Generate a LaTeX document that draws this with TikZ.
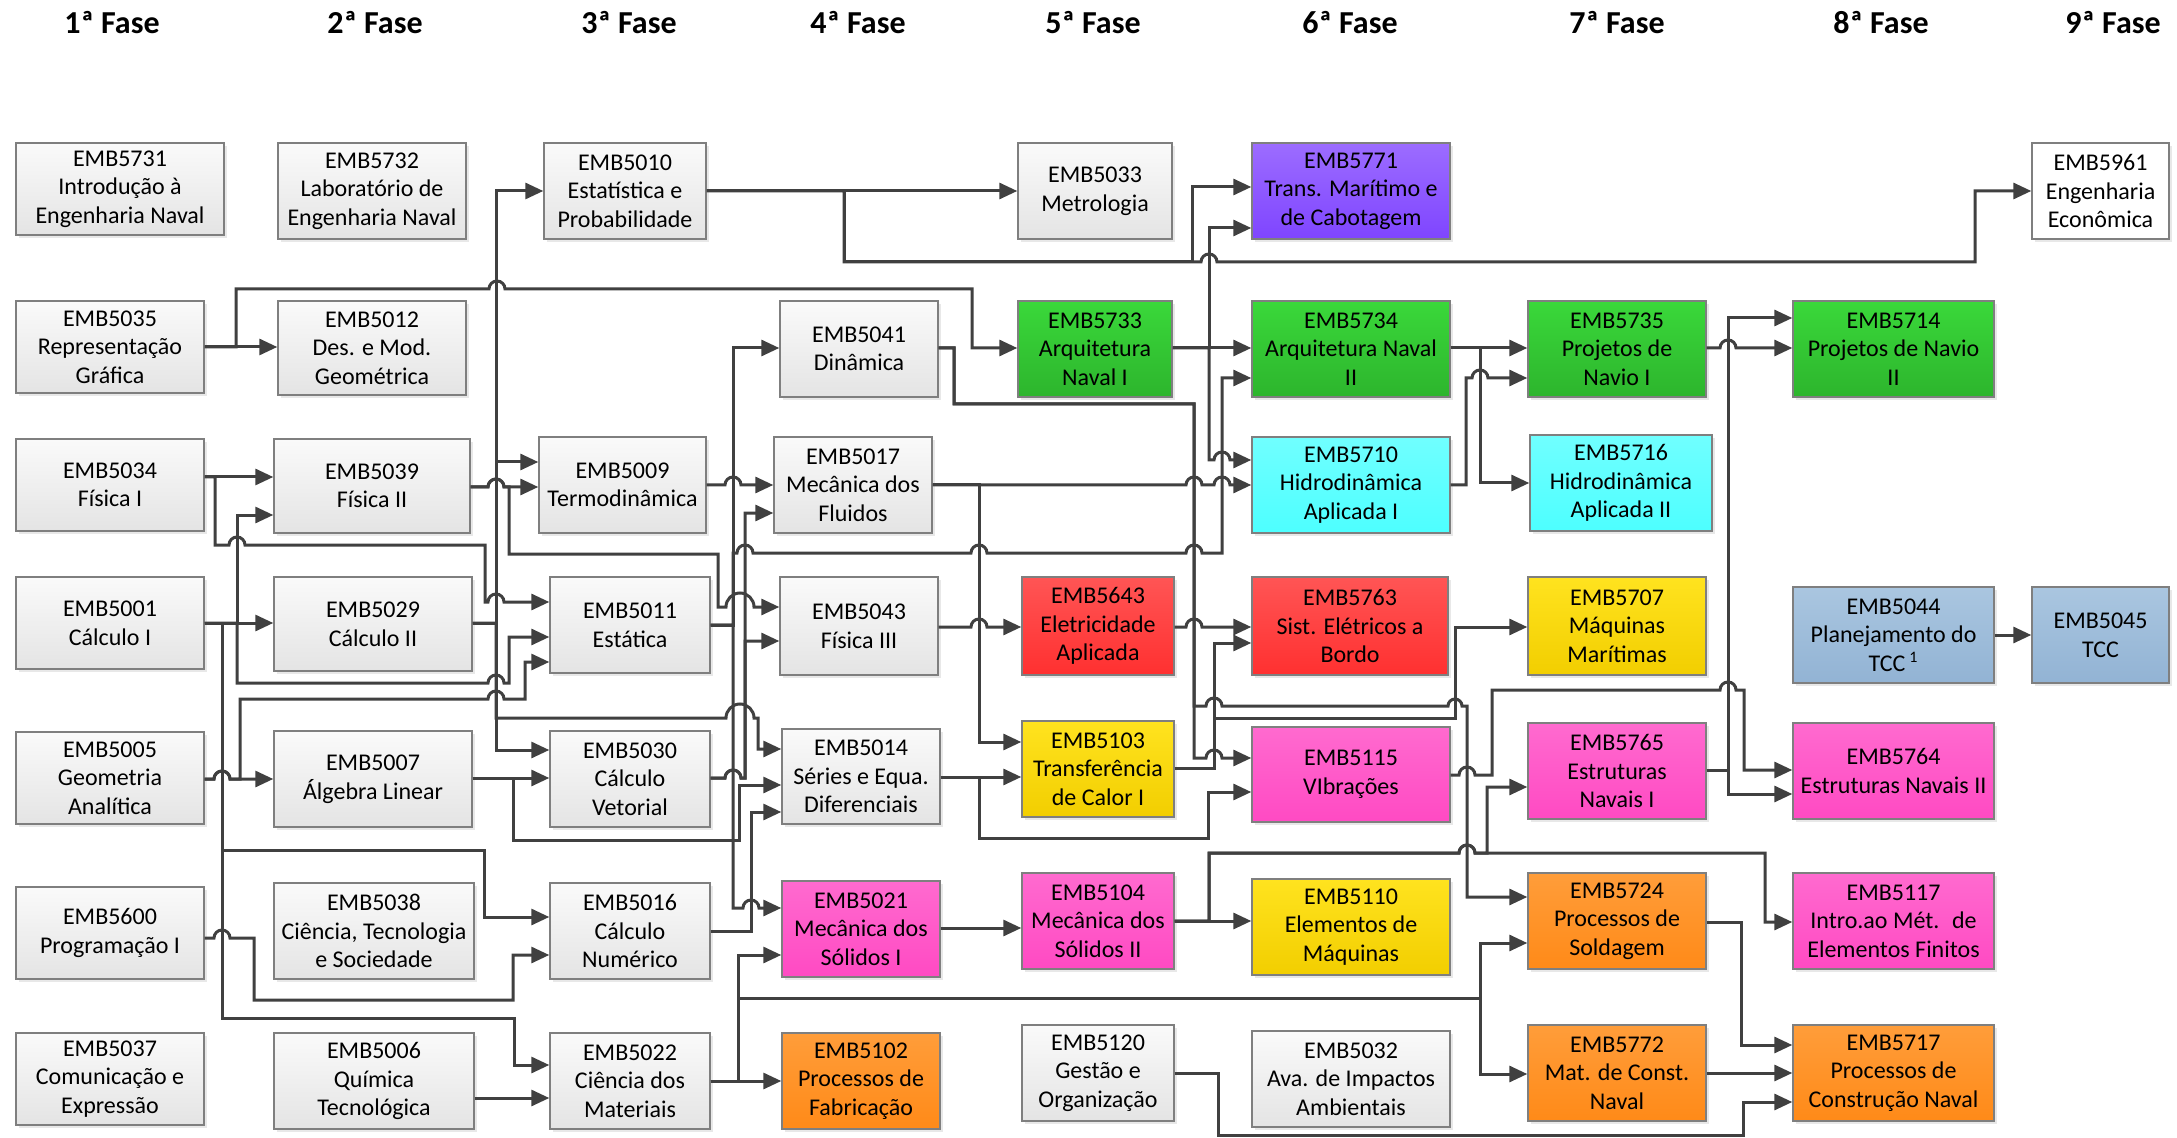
\documentclass[tikz,border=0pt]{standalone}
\usepackage{fontspec}
\setmainfont{Carlito}
\usetikzlibrary{arrows.meta,shadows}
\definecolor{lc}{HTML}{404040}
\definecolor{bd}{HTML}{7F7F7F}
\definecolor{grT}{HTML}{FAFAFA}\definecolor{grB}{HTML}{E4E4E4}
\definecolor{gnT}{HTML}{3AD83A}\definecolor{gnB}{HTML}{2DB52D}
\definecolor{puT}{HTML}{9C6CFF}\definecolor{puB}{HTML}{7F45FF}
\definecolor{cyT}{HTML}{70FFFF}\definecolor{cyB}{HTML}{4DFFFF}
\definecolor{rdT}{HTML}{FF5555}\definecolor{rdB}{HTML}{FF3030}
\definecolor{yeT}{HTML}{FFE31F}\definecolor{yeB}{HTML}{F2CE00}
\definecolor{mgT}{HTML}{FF6ACF}\definecolor{mgB}{HTML}{FF4AC3}
\definecolor{orT}{HTML}{FF9D3A}\definecolor{orB}{HTML}{FF8A18}
\definecolor{blT}{HTML}{AAC6E0}\definecolor{blB}{HTML}{92B3D4}
\newcommand\bxfont{\fontsize{12}{14.3}\selectfont}
\newcommand\hdrfont{\fontsize{16}{19}\selectfont\bfseries}
\newcommand\hop[2]{-- ({#1-8},#2) arc[start angle=180,end angle=360,radius=8]}
\newcommand\hopw[3]{-- ({#1-#3},#2) arc[start angle=180,end angle=360,radius=#3]}
\tikzset{
  box/.style={draw=bd, line width=0.7pt, align=center, inner sep=0pt, font=\bxfont,
    drop shadow={shadow xshift=1.6pt, shadow yshift=-1.6pt, opacity=0.18}},
  wh/.style 2 args={minimum width=#1*0.5pt, minimum height=#2*0.5pt},
  cgray/.style={box, top color=grT, bottom color=grB},
  cwhite/.style={box, fill=white},
  cgreen/.style={box, top color=gnT, bottom color=gnB},
  cpurple/.style={box, top color=puT, bottom color=puB},
  ccyan/.style={box, top color=cyT, bottom color=cyB},
  cred/.style={box, top color=rdT, bottom color=rdB},
  cyellow/.style={box, top color=yeT, bottom color=yeB},
  cmag/.style={box, top color=mgT, bottom color=mgB},
  corange/.style={box, top color=orT, bottom color=orB},
  cblue/.style={box, top color=blT, bottom color=blB},
  ln/.style={draw=lc, line width=1.5pt},
  ar/.style={ln, -{Triangle[length=9pt,width=8pt]}},
  hdr/.style={font=\hdrfont, inner sep=0pt}
}
\begin{document}
\begin{tikzpicture}[x=0.5pt,y=-0.5pt]
\fill[white] (0,0) rectangle (2177,1138);
\useasboundingbox (0,0) rectangle (2177,1138);

% headers
\node[hdr] (h1) at (112,23) {1ª Fase};
\node[hdr] (h2) at (375,23) {2ª Fase};
\node[hdr] (h3) at (629,23) {3ª Fase};
\node[hdr] (h4) at (858,23) {4ª Fase};
\node[hdr] (h5) at (1093,23) {5ª Fase};
\node[hdr] (h6) at (1350,23) {6ª Fase};
\node[hdr] (h7) at (1617,23) {7ª Fase};
\node[hdr] (h8) at (1881,23) {8ª Fase};
\node[hdr] (h9) at (2113,23) {9ª Fase};

% row 1
\node[cgray, wh={208}{92}] (n5731) at (120,189) {EMB5731\\Introdução à\\Engenharia Naval};
\node[cgray, wh={188}{96}] (n5732) at (372,191) {EMB5732\\Laboratório de\\Engenharia Naval};
\node[cgray, wh={162}{96}] (n5010) at (625,191) {EMB5010\\Estatística e\\Probabilidade};
\node[cgray, wh={154}{96}] (n5033) at (1095,191) {EMB5033\\Metrologia};
\node[cpurple, wh={198}{96}] (n5771) at (1351,191) {EMB5771\\Trans. Marítimo e\\de Cabotagem};
\node[cwhite, wh={137}{96}] (n5961) at (2100.5,191) {EMB5961\\Engenharia\\Econômica};
% row 2
\node[cgray, wh={188}{92}] (n5035) at (110,347) {EMB5035\\Representação\\Gráfica};
\node[cgray, wh={188}{94}] (n5012) at (372,348) {EMB5012\\Des. e Mod.\\Geométrica};
\node[cgray, wh={158}{96}] (n5041) at (859,349) {EMB5041\\Dinâmica};
\node[cgreen, wh={154}{96}] (n5733) at (1095,349) {EMB5733\\Arquitetura\\Naval I};
\node[cgreen, wh={198}{96}] (n5734) at (1351,349) {EMB5734\\Arquitetura Naval\\II};
\node[cgreen, wh={178}{96}] (n5735) at (1617,349) {EMB5735\\Projetos de\\Navio I};
\node[cgreen, wh={201}{96}] (n5714) at (1893.5,349) {EMB5714\\Projetos de Navio\\II};
% row 3
\node[cgray, wh={188}{92}] (n5034) at (110,485) {EMB5034\\Física I};
\node[cgray, wh={196}{94}] (n5039) at (372,486) {EMB5039\\Física II};
\node[cgray, wh={167}{96}] (n5009) at (622.5,485) {EMB5009\\Termodinâmica};
\node[cgray, wh={158}{96}] (n5017) at (853,485) {EMB5017\\Mecânica dos\\Fluidos};
\node[ccyan, wh={198}{96}] (n5710) at (1351,485) {EMB5710\\Hidrodinâmica\\Aplicada I};
\node[ccyan, wh={182}{96}] (n5716) at (1621,483) {EMB5716\\Hidrodinâmica\\Aplicada II};
% row 4
\node[cgray, wh={188}{92}] (n5001) at (110,623) {EMB5001\\Cálculo I};
\node[cgray, wh={198}{94}] (n5029) at (373,624) {EMB5029\\Cálculo II};
\node[cgray, wh={160}{96}] (n5011) at (630,625) {EMB5011\\Estática};
\node[cgray, wh={158}{98}] (n5043) at (859,626) {EMB5043\\Física III};
\node[cred, wh={152}{98}] (n5643) at (1098,626) {EMB5643\\Eletricidade\\Aplicada};
\node[cred, wh={196}{98}] (n5763) at (1350,626) {EMB5763\\Sist. Elétricos a\\Bordo};
\node[cyellow, wh={178}{98}] (n5707) at (1617,626) {EMB5707\\Máquinas\\Marítimas};
\node[cblue, wh={201}{96}] (n5044) at (1893.5,635) {EMB5044\\Planejamento do\\TCC\,\textsuperscript{1}};
\node[cblue, wh={137}{96}] (n5045) at (2100.5,635) {EMB5045\\TCC};
% row 5
\node[cgray, wh={188}{92}] (n5005) at (110,778) {EMB5005\\Geometria\\Analítica};
\node[cgray, wh={198}{96}] (n5007) at (373,779) {EMB5007\\Álgebra Linear};
\node[cgray, wh={160}{96}] (n5030) at (630,779) {EMB5030\\Cálculo\\Vetorial};
\node[cgray, wh={158}{95}] (n5014) at (861,776.5) {EMB5014\\Séries e Equa.\\Diferenciais};
\node[cyellow, wh={152}{96}] (n5103) at (1098,769) {EMB5103\\Transferência\\de Calor I};
\node[cmag, wh={198}{95}] (n5115) at (1351,774.5) {EMB5115\\VIbrações};
\node[cmag, wh={178}{96}] (n5765) at (1617,771) {EMB5765\\Estruturas\\Navais I};
\node[cmag, wh={201}{96}] (n5764) at (1893.5,771) {EMB5764\\Estruturas Navais II};
% row 6
\node[cgray, wh={188}{92}] (n5600) at (110,933) {EMB5600\\Programação I};
\node[cgray, wh={200}{96}] (n5038) at (374,931) {EMB5038\\Ciência, Tecnologia\\e Sociedade};
\node[cgray, wh={160}{96}] (n5016) at (630,931) {EMB5016\\Cálculo\\Numérico};
\node[cmag, wh={158}{96}] (n5021) at (861,929) {EMB5021\\Mecânica dos\\Sólidos I};
\node[cmag, wh={152}{96}] (n5104) at (1098,921) {EMB5104\\Mecânica dos\\Sólidos II};
\node[cyellow, wh={198}{96}] (n5110) at (1351,927) {EMB5110\\Elementos de\\Máquinas};
\node[corange, wh={178}{96}] (n5724) at (1617,921) {EMB5724\\Processos de\\Soldagem};
\node[cmag, wh={201}{96}] (n5117) at (1893.5,921) {EMB5117\\Intro.ao Mét.~ de\\Elementos Finitos};
% row 7
\node[cgray, wh={188}{92}] (n5037) at (110,1079) {EMB5037\\Comunicação e\\Expressão};
\node[cgray, wh={200}{96}] (n5006) at (374,1081) {EMB5006\\Química\\Tecnológica};
\node[cgray, wh={160}{96}] (n5022) at (630,1081) {EMB5022\\Ciência dos\\Materiais};
\node[corange, wh={158}{96}] (n5102) at (861,1081) {EMB5102\\Processos de\\Fabricação};
\node[cgray, wh={152}{96}] (n5120) at (1098,1073) {EMB5120\\Gestão e\\Organização};
\node[cgray, wh={198}{96}] (n5032) at (1351,1079) {EMB5032\\Ava. de Impactos\\Ambientais};
\node[corange, wh={178}{96}] (n5772) at (1617,1073) {EMB5772\\Mat. de Const.\\Naval};
\node[corange, wh={201}{96}] (n5717) at (1893.5,1073) {EMB5717\\Processos de\\Construção Naval};

% connectors
\draw[ar] (n5035.east |- 0,347) -- (n5012.west |- 0,347);
\draw[ar] (n5035.east |- 0,347) -- (236,347) -- (236,289) \hop{497}{289} -- (972,289) -- (972,348) -- (n5733.west |- 0,348);
\draw[ar] (n5034.east |- 0,477) -- (n5039.west |- 0,477);
\draw[ar] (n5034.east |- 0,477) -- (215,477) -- (215,545) \hop{237}{545} -- (485,545) -- (485,602) \hop{496}{602} -- (n5011.west |- 0,602);
\draw[ar] (n5001.east |- 0,623) -- (n5029.west |- 0,623);
\draw[ar] (n5001.east |- 0,623) -- (237,623) -- (237,515) -- (n5039.west |- 0,515);
\draw[ar] (n5001.east |- 0,623) -- (237,623) -- (237,683) \hop{496}{683} -- (509,683) -- (509,637) -- (n5011.west |- 0,637);
\draw[ar] (n5001.east |- 0,623) -- (222,623) -- (222,850) -- (484,850) -- (484,917) -- (n5016.west |- 0,917);
\draw[ar] (n5001.east |- 0,623) -- (222,623) -- (222,1018) -- (514,1018) -- (514,1065) -- (n5022.west |- 0,1065);
\draw[ar] (n5005.east |- 0,779) \hop{222}{779} -- (n5007.west |- 0,779);
\draw[ar] (n5005.east |- 0,779) \hop{222}{779} -- (240,779) -- (240,699) \hop{496}{699} -- (525,699) -- (525,662) -- (n5011.west |- 0,662);
\draw[ar] (n5600.east |- 0,938) \hop{222}{938} -- (254,938) -- (254,1000) -- (513,1000) -- (513,955) -- (n5016.west |- 0,955);
\draw[ar] (n5006.east |- 0,1098) -- (n5022.west |- 0,1098);
\draw[ar] (n5007.east |- 0,778) -- (n5030.west |- 0,778);
\draw[ar] (n5007.east |- 0,778) -- (513,778) -- (513,840) -- (739,840) -- (739,785) -- (n5014.west |- 0,785);
\draw[ar] (n5029.east |- 0,623) -- (496,623) -- (496,191) -- (n5010.west |- 0,191);
\draw[ar] (n5029.east |- 0,623) -- (496,623) -- (496,462) -- (n5009.west |- 0,462);
\draw[ar] (n5029.east |- 0,623) -- (496,623) -- (496,750) -- (n5030.west |- 0,750);
\draw[ar] (n5029.east |- 0,623) -- (496,623) -- (496,718) \hopw{740}{718}{14} -- (758,718) -- (758,749) -- (n5014.west |- 0,749);
\draw[ar] (n5039.east |- 0,487) \hop{496}{487} -- (n5009.west |- 0,487);
\draw[ar] (n5039.east |- 0,487) \hop{496}{487} -- (509,487) -- (509,554) -- (718,554) -- (718,607) \hopw{740}{607}{14} -- (n5043.west |- 0,607);
\draw[ar] (n5009.east |- 0,485) \hop{733}{485} -- (n5017.west |- 0,485);
\draw[ar] (n5011.east |- 0,625) -- (733,625) -- (733,348) -- (n5041.west |- 0,348);
\draw[ar] (n5011.east |- 0,625) -- (733,625) -- (733,908) \hop{751}{908} -- (n5021.west |- 0,908);
\draw[ar] (n5011.east |- 0,625) -- (733,625) -- (733,553) \hop{745}{553} \hop{979}{553} \hop{1194}{553} -- (1222,553) -- (1222,378) -- (n5734.west |- 0,378);
\draw[ar] (n5030.east |- 0,778) \hop{733}{778} -- (745,778) -- (745,641) -- (n5043.west |- 0,641);
\draw[ar] (n5030.east |- 0,778) \hop{733}{778} -- (745,778) -- (745,513) -- (n5017.west |- 0,513);
\draw[ar] (n5016.east |- 0,931) -- (751,931) -- (751,812) -- (n5014.west |- 0,812);
\draw[ar] (n5022.east |- 0,1081) -- (n5102.west |- 0,1081);
\draw[ar] (n5022.east |- 0,1081) -- (738,1081) -- (738,955) -- (n5021.west |- 0,955);
\draw[ar] (n5022.east |- 0,1081) -- (738,1081) -- (738,998) -- (1480,998) -- (1480,943) -- (n5724.west |- 0,943);
\draw[ar] (n5022.east |- 0,1081) -- (738,1081) -- (738,998) -- (1480,998) -- (1480,1074) -- (n5772.west |- 0,1074);
\draw[ar] (n5010.east |- 0,191) -- (n5033.west |- 0,191);
\draw[ar] (n5010.east |- 0,191) -- (844,191) -- (844,262) -- (1192,262) -- (1192,187) -- (n5771.west |- 0,187);
\draw[ar] (n5010.east |- 0,191) -- (844,191) -- (844,262) \hop{1209}{262} -- (1975,262) -- (1975,191) -- (n5961.west |- 0,191);
\draw[ar] (n5041.east |- 0,348) -- (954,348) -- (954,404) -- (1194,404) -- (1194,758) \hop{1214}{758} -- (n5115.west |- 0,758);
\draw[ar] (n5041.east |- 0,348) -- (954,348) -- (954,404) -- (1194,404) -- (1194,706) \hop{1214}{706} \hopw{1455}{706}{7} -- (1467,706) -- (1467,897) -- (n5724.west |- 0,897);
\draw[ar] (n5017.east |- 0,485) \hop{1194}{485} \hop{1222}{485} -- (n5710.west |- 0,485);
\draw[ar] (n5017.east |- 0,485) -- (979,485) -- (979,742) -- (n5103.west |- 0,742);
\draw[ar] (n5043.east |- 0,627) \hop{979}{627} -- (n5643.west |- 0,627);
\draw[ar] (n5643.east |- 0,627) \hop{1194}{627} -- (n5763.west |- 0,627);
\draw[ar] (n5733.east |- 0,348) -- (n5734.west |- 0,348);
\draw[ar] (n5733.east |- 0,348) -- (1209,348) -- (1209,228) -- (n5771.west |- 0,228);
\draw[ar] (n5733.east |- 0,348) -- (1209,348) -- (1209,460) \hop{1222}{460} -- (n5710.west |- 0,460);
\draw[ar] (n5734.east |- 0,348) -- (n5735.west |- 0,348);
\draw[ar] (n5734.east |- 0,348) -- (1480,348) -- (1480,483) -- (n5716.west |- 0,483);
\draw[ar] (n5710.east |- 0,485) -- (1466,485) -- (1466,378) \hop{1480}{378} -- (n5735.west |- 0,378);
\draw[ar] (n5735.east |- 0,348) \hop{1728}{348} -- (n5714.west |- 0,348);
\draw[ar] (n5765.east |- 0,770) -- (1728,770) -- (1728,318) -- (n5714.west |- 0,318);
\draw[ar] (n5765.east |- 0,770) -- (1728,770) -- (1728,794) -- (n5764.west |- 0,794);
\draw[ar] (n5115.east |- 0,775) \hop{1467}{775} -- (1492,775) -- (1492,690) \hop{1728}{690} -- (1744,690) -- (1744,770) -- (n5764.west |- 0,770);
\draw[ar] (n5103.east |- 0,768) -- (1214,768) -- (1214,643) -- (n5763.west |- 0,643);
\draw[ar] (n5103.east |- 0,768) -- (1214,768) -- (1214,718) -- (1455,718) -- (1455,627) -- (n5707.west |- 0,627);
\draw[ar] (n5014.east |- 0,777) -- (n5103.west |- 0,777);
\draw[ar] (n5014.east |- 0,777) -- (979,777) -- (979,838) -- (1208,838) -- (1208,792) -- (n5115.west |- 0,792);
\draw[ar] (n5021.east |- 0,928) -- (n5104.west |- 0,928);
\draw[ar] (n5104.east |- 0,921) -- (n5110.west |- 0,921);
\draw[ar] (n5104.east |- 0,921) -- (1209,921) -- (1209,853) \hop{1467}{853} -- (1487,853) -- (1487,787) -- (n5765.west |- 0,787);
\draw[ar] (n5104.east |- 0,921) -- (1209,921) -- (1209,853) \hop{1467}{853} -- (1765,853) -- (1765,922) -- (n5117.west |- 0,922);
\draw[ar] (n5724.east |- 0,922) -- (1741,922) -- (1741,1045) -- (n5717.west |- 0,1045);
\draw[ar] (n5772.east |- 0,1073) -- (n5717.west |- 0,1073);
\draw[ar] (n5120.east |- 0,1073) -- (1218,1073) -- (1218,1135) -- (1743,1135) -- (1743,1102) -- (n5717.west |- 0,1102);
\draw[ar] (n5044.east |- 0,635) -- (n5045.west |- 0,635);
\end{tikzpicture}
\end{document}
